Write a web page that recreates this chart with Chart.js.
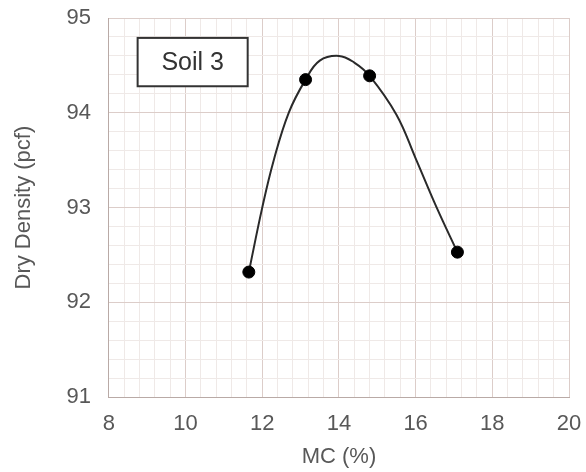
<!DOCTYPE html>
<html>
<head>
<meta charset="utf-8">
<script src="https://cdn.jsdelivr.net/npm/chart.js@4"></script>
<style>
  html, body { margin: 0; padding: 0; background: #fff; }
  #wrap { width: 586px; height: 472px; }
</style>
</head>
<body>
<div id="wrap"><canvas id="chart" width="586" height="472"></canvas></div>
<script>
// measured points
const mcPoints = [11.65, 13.13, 14.8, 17.09];
const densityPoints = [92.32, 94.35, 94.39, 92.53];

// fitted curve
const curveMc = [11.65, 12.0, 12.3, 12.69, 13.13, 13.5, 14.0, 14.4, 14.8, 15.5, 16.0, 16.55, 17.09];
const curveDensity = [92.32, 93.0, 93.5, 94.0, 94.35, 94.55, 94.6, 94.53, 94.39, 93.98, 93.52, 93.0, 92.53];

const xTicks = [8, 10, 12, 14, 16, 18, 20];
const yTicks = [91, 92, 93, 94, 95];
const boxLabel = 'Soil 3';

const pairs = (xs, ys) => xs.map((x, i) => ({ x: x, y: ys[i] }));
const isMajor = (v, list) => list.some(t => Math.abs(t - v) < 1e-6);

const majorColor = '#dccdc9';
const minorColor = '#efe9e7';
const textColor = '#585858';
const fontFamily = '"Liberation Sans", Arial, sans-serif';

// text box in the upper left
const soilBox = {
  id: 'soilBox',
  afterDatasetsDraw(chart) {
    const { ctx, scales: { x, y } } = chart;
    const left = x.getPixelForValue(8.75), right = x.getPixelForValue(11.62);
    const top = y.getPixelForValue(94.79), bottom = y.getPixelForValue(94.28);
    ctx.save();
    ctx.fillStyle = '#fff';
    ctx.fillRect(left, top, right - left, bottom - top);
    ctx.strokeStyle = '#333';
    ctx.lineWidth = 2;
    ctx.strokeRect(left, top, right - left, bottom - top);
    ctx.fillStyle = '#333';
    ctx.font = '25px ' + fontFamily;
    ctx.textAlign = 'center';
    ctx.textBaseline = 'middle';
    ctx.fillText(boxLabel, (left + right) / 2, (top + bottom) / 2 + 1);
    ctx.restore();
  }
};

new Chart(document.getElementById('chart').getContext('2d'), {
  type: 'scatter',
  data: {
    datasets: [
      {
        label: 'Curve',
        data: pairs(curveMc, curveDensity),
        showLine: true,
        borderColor: '#2a2a2a',
        borderWidth: 2,
        tension: 0.4,
        pointRadius: 0,
        order: 2
      },
      {
        label: 'Soil 3',
        data: pairs(mcPoints, densityPoints),
        backgroundColor: '#000',
        borderColor: '#000',
        pointRadius: 6,
        order: 1
      }
    ]
  },
  options: {
    responsive: false,
    animation: false,
    layout: { padding: { top: 18, right: 17, left: 0, bottom: 0 } },
    plugins: { legend: { display: false }, tooltip: { enabled: false } },
    scales: {
      x: {
        type: 'linear',
        min: 8, max: 20,
        border: { color: '#b9aaa6', width: 1 },
        grid: {
          color: c => isMajor(c.tick.value, xTicks) ? majorColor : minorColor,
          lineWidth: 1,
          tickLength: 0
        },
        afterFit: s => { s.paddingLeft = 0; s.paddingRight = 0; },
        ticks: {
          stepSize: 0.4,
          autoSkip: false,
          maxRotation: 0,
          padding: 14,
          color: textColor,
          font: { family: fontFamily, size: 22 },
          callback: v => isMajor(v, xTicks) ? String(Math.round(v)) : ''
        },
        title: {
          display: true,
          text: 'MC (%)',
          color: textColor,
          font: { family: fontFamily, size: 22 },
          padding: { top: -8, bottom: 2 }
        }
      },
      y: {
        type: 'linear',
        min: 91, max: 95,
        border: { color: '#b9aaa6', width: 1 },
        grid: {
          color: c => isMajor(c.tick.value, yTicks) ? majorColor : minorColor,
          lineWidth: 1,
          tickLength: 0
        },
        afterFit: s => { s.paddingTop = 0; s.paddingBottom = 0; },
        ticks: {
          stepSize: 0.2,
          autoSkip: false,
          padding: 18,
          color: textColor,
          font: { family: fontFamily, size: 22 },
          callback: v => isMajor(v, yTicks) ? String(Math.round(v)) : ''
        },
        title: {
          display: true,
          text: 'Dry Density (pcf)',
          color: textColor,
          font: { family: fontFamily, size: 22 },
          padding: { top: 11, bottom: 11 }
        }
      }
    }
  },
  plugins: [soilBox]
});
</script>
</body>
</html>
